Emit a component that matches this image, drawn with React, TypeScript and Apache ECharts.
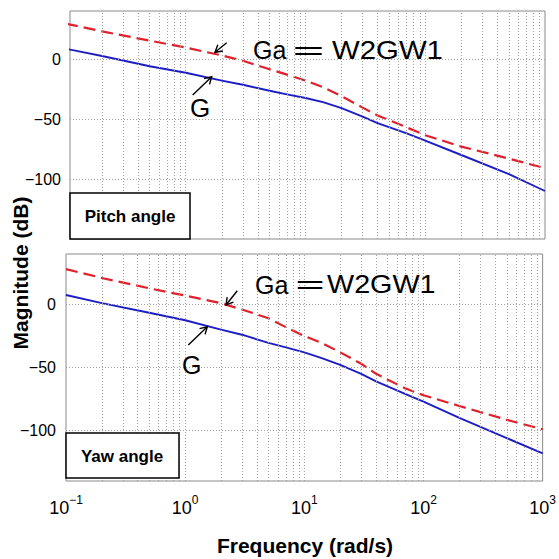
import React, { useEffect, useRef } from "react";
import * as echarts from "echarts";

const freq = [0.1, 0.2, 0.5, 1, 2, 3, 5, 7, 10, 14, 20, 30, 40, 70, 100, 200, 500, 1000];
// Pitch angle panel (dB)
const pitchG = [8.5, 2.5, -6, -11.5, -18, -21.5, -26.5, -29.5, -32.5, -36, -41, -48, -53.5, -62, -68, -80, -96, -110];
const pitchGa = [29.5, 23, 15.3, 9.5, 3, -1.5, -8.5, -13, -18, -23.5, -31, -40.5, -47, -57, -63.5, -73, -83, -91];
// Yaw angle panel (dB)
const yawG = [7.5, 1, -6.6, -12.5, -20, -24, -30.5, -34, -38, -42.5, -48, -55, -61, -71, -77, -90, -106, -118];
const yawGa = [28, 21, 12.8, 7, 1, -4, -11, -18, -25, -30.5, -38, -47, -55, -66.5, -72, -80.5, -91.5, -99];

// Axis ticks
const yLabelTicks = [0, -50, -100];
const decades = [-1, 0, 1, 2];
const mantissas = [1, 2, 3, 4, 5, 6, 7, 8, 9];

const FONT = '"Liberation Sans", Arial, Helvetica, sans-serif';
const CJK = '"Noto Sans CJK JP", "Noto Sans CJK SC", sans-serif';
const RED = "#e0202a";
const BLUE = "#1d1dc4";
const GRIDC = "#a0a0a0";

const pairs = (xs: number[], ys: number[]) => xs.map((x, i) => [x, ys[i]]);

const vGridValues = (() => {
  const out: number[] = [];
  decades.forEach((d) => mantissas.forEach((m) => out.push(parseFloat((m * Math.pow(10, d)).toPrecision(6)))));
  out.push(1000);
  return out;
})();

function arrow(x1: number, y1: number, x2: number, y2: number) {
  const dx = x2 - x1;
  const dy = y2 - y1;
  const L = Math.hypot(dx, dy);
  const ux = dx / L;
  const uy = dy / L;
  const s = 8;
  const a = Math.PI / 6;
  const rot = (ang: number) => [
    x2 - s * (ux * Math.cos(ang) - uy * Math.sin(ang)),
    y2 - s * (uy * Math.cos(ang) + ux * Math.sin(ang)),
  ];
  return [
    { type: "line", z: 100, shape: { x1, y1, x2, y2 }, style: { stroke: "#000", lineWidth: 1.4 } },
    {
      type: "polyline",
      z: 100,
      shape: { points: [rot(a), [x2, y2], rot(-a)] },
      style: { stroke: "#000", fill: null, lineWidth: 1.4 },
    },
  ];
}

function txt(text: string, x: number, y: number, size: number, opts: any = {}) {
  const { weight = "normal", align = "left", scaleX = 1, scaleY = 1, rotation = 0, family = FONT } = opts;
  return {
    type: "text",
    z: 100,
    x,
    y,
    scaleX,
    scaleY,
    rotation,
    style: {
      text,
      fill: "#000",
      fontSize: size,
      fontWeight: weight,
      fontFamily: family,
      align,
      verticalAlign: "middle",
    },
  };
}

export default function App() {
  const ref = useRef<HTMLDivElement>(null);
  useEffect(() => {
    if (!ref.current) return;
    const chart = echarts.init(ref.current, null, { renderer: "svg" });

    const yFmt = (v: number) => (yLabelTicks.includes(v) ? (v < 0 ? "\u2212" + -v : String(v)) : "");
    const xFmt = (v: number) => {
      const e = Math.round(Math.log10(v));
      return `{b|10}{s|${e < 0 ? "\u2212" + -e : e}}`;
    };

    const gridLineSeries = (idx: number, xmin: number) => ({
      type: "line",
      xAxisIndex: idx,
      yAxisIndex: idx,
      data: [],
      z: 1,
      silent: true,
      markLine: {
        silent: true,
        symbol: ["none", "none"],
        label: { show: false },
        lineStyle: { color: GRIDC, type: [1, 2], width: 1 },
        emphasis: { disabled: true },
        data: [
          ...vGridValues.filter((v) => v > xmin && v < 1000).map((v) => ({ xAxis: v })),
          ...yLabelTicks.map((v) => ({ yAxis: v })),
        ],
      },
    });

    const curve = (idx: number, data: number[][], color: string, dashed: boolean) => ({
      type: "line",
      xAxisIndex: idx,
      yAxisIndex: idx,
      data,
      z: 3,
      showSymbol: false,
      smooth: false,
      lineStyle: { color, width: dashed ? 2.2 : 1.9, type: dashed ? [12, 6] : "solid", join: "round" },
    });

    const yAxisBase = (idx: number, min: number, margin: number) => ({
      type: "value",
      gridIndex: idx,
      min,
      max: 40,
      interval: 10,
      axisLine: { show: false },
      axisTick: { show: false },
      splitLine: { show: false },
      axisLabel: { formatter: yFmt, fontSize: 16, color: "#000", fontFamily: FONT, margin },
    });

    chart.setOption({
      animation: false,
      backgroundColor: "#fff",
      grid: [
        { left: 70, top: 11, width: 475, height: 228, show: true, borderColor: "#8a8a8a", borderWidth: 1 },
        { left: 66, top: 254, width: 479, height: 227, show: true, borderColor: "#8a8a8a", borderWidth: 1 },
      ],
      xAxis: [
        {
          type: "log",
          logBase: 10,
          gridIndex: 0,
          min: 0.108,
          max: 1000,
          axisLine: { show: false },
          axisTick: { show: false },
          axisLabel: { show: false },
          splitLine: { show: false },
        },
        {
          type: "log",
          logBase: 10,
          gridIndex: 1,
          min: 0.1,
          max: 1000,
          axisLine: { show: false },
          axisTick: { show: false },
          splitLine: { show: false },
          axisLabel: {
            formatter: xFmt,
            margin: 13,
            rich: {
              b: { fontSize: 18, fontFamily: FONT, color: "#000", lineHeight: 28 },
              s: { fontSize: 12, fontFamily: FONT, color: "#000", lineHeight: 12, verticalAlign: "top" },
            },
          },
        },
      ],
      yAxis: [yAxisBase(0, -150, 9), yAxisBase(1, -140, 10)],
      series: [
        gridLineSeries(0, 0.108),
        gridLineSeries(1, 0.1),
        curve(0, pairs(freq, pitchG), BLUE, false),
        curve(0, pairs(freq, pitchGa), RED, true),
        curve(1, pairs(freq, yawG), BLUE, false),
        curve(1, pairs(freq, yawGa), RED, true),
      ],
      graphic: [
        // label boxes
        { type: "rect", z: 90, shape: { x: 70, y: 193, width: 120, height: 46 }, style: { fill: "#fff", stroke: "#000", lineWidth: 1.5 } },
        txt("Pitch angle", 130, 216, 17, { weight: "bold", align: "center" }),
        { type: "rect", z: 90, shape: { x: 66, y: 433, width: 113, height: 45 }, style: { fill: "#fff", stroke: "#000", lineWidth: 1.5 } },
        txt("Yaw angle", 122, 456, 17, { weight: "bold", align: "center" }),
        // axis titles
        txt("Magnitude (dB)", 20, 273, 21, { weight: "bold", align: "center", rotation: Math.PI / 2 }),
        txt("Frequency (rad/s)", 305, 545, 21, { weight: "bold", align: "center" }),
        // top annotations
        txt("Ga", 253, 50, 25),
        txt("\uFF1D", 308.5, 49, 28, { align: "center", scaleX: 1.3, family: CJK }),
        txt("W2GW1", 332, 50, 25, { scaleX: 1.175 }),
        txt("G", 190, 108, 26),
        ...arrow(226.7, 42.7, 215, 52.3),
        ...arrow(192.7, 95, 211.7, 76.7),
        // bottom annotations
        txt("Ga", 255, 284.5, 25),
        txt("\uFF1D", 310, 283.5, 28, { align: "center", scaleX: 1.2, family: CJK }),
        txt("W2GW1", 327, 284.5, 25, { scaleX: 1.15 }),
        txt("G", 182, 365, 25),
        ...arrow(237.3, 290.7, 226, 305),
        ...arrow(188.3, 345, 207.3, 326.7),
      ],
    });
    return () => chart.dispose();
  }, []);
  return <div ref={ref} style={{ position: "absolute", left: 0, top: 0, width: 559, height: 559 }} />;
}
